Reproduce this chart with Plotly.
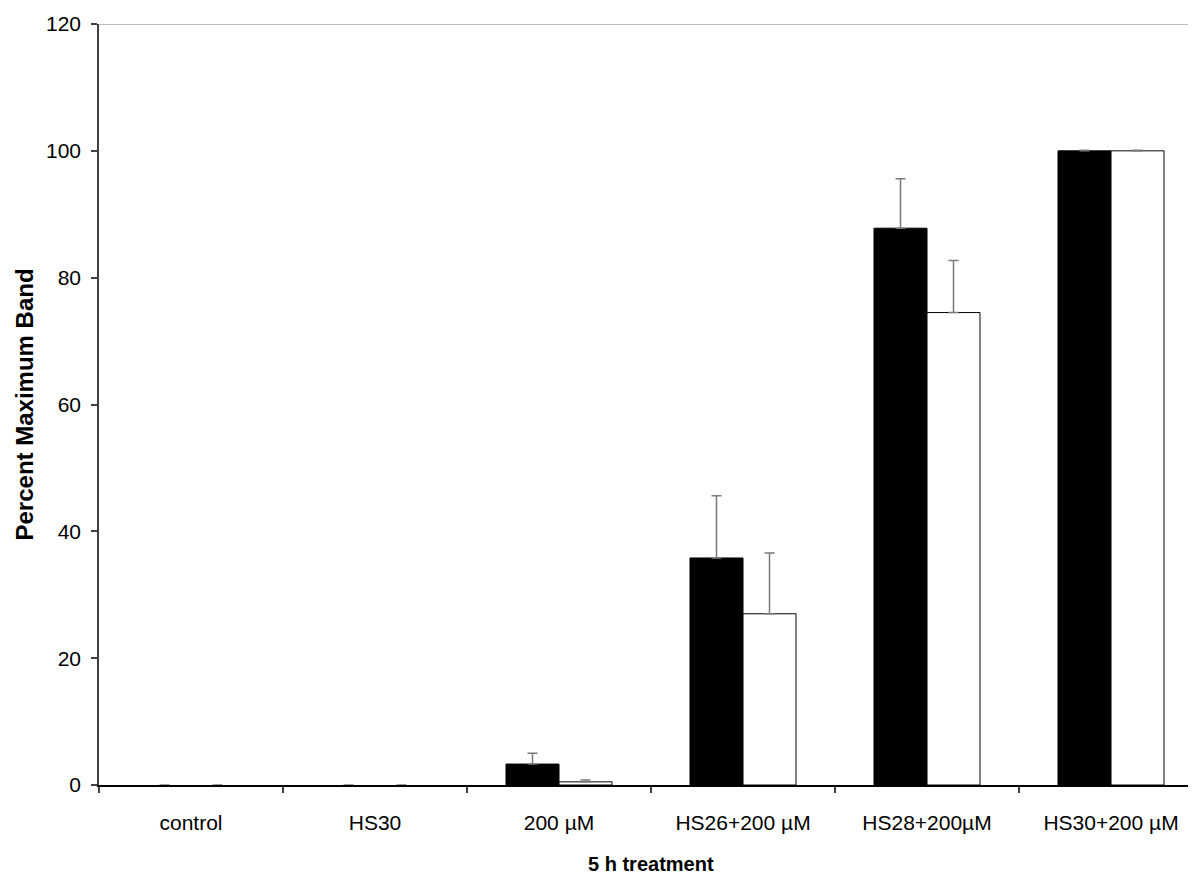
import plotly.graph_objects as go

categories = ["control", "HS30", "200 µM", "HS26+200 µM", "HS28+200µM", "HS30+200 µM"]
black_values = [0, 0, 3.3, 35.8, 87.8, 100]
black_errors = [0, 0, 1.7, 9.8, 7.8, 0.1]
white_values = [0, 0, 0.5, 27.0, 74.5, 100]
white_errors = [0, 0, 0.3, 9.6, 8.2, 0.1]
y_ticks = [0, 20, 40, 60, 80, 100, 120]

FONT = "Liberation Sans, Arial, sans-serif"


def outline_widths(values):
    return [0 if v == 0 else 1 for v in values]


fig = go.Figure()
fig.add_trace(go.Bar(
    x=categories, y=black_values, name="black",
    marker=dict(color="black", line=dict(color="black", width=outline_widths(black_values))),
    error_y=dict(type="data", symmetric=False, array=black_errors,
                 arrayminus=[0] * len(black_errors),
                 color="#7a7a7a", thickness=1.5, width=5),
))
fig.add_trace(go.Bar(
    x=categories, y=white_values, name="white",
    marker=dict(color="white", line=dict(color="black", width=outline_widths(white_values))),
    error_y=dict(type="data", symmetric=False, array=white_errors,
                 arrayminus=[0] * len(white_errors),
                 color="#7a7a7a", thickness=1.5, width=5),
))

fig.update_layout(
    width=1196, height=878,
    margin=dict(l=91, r=1, t=16, b=101),
    paper_bgcolor="white", plot_bgcolor="white",
    barmode="group", bargap=0.424, bargroupgap=0,
    showlegend=False,
    font=dict(family=FONT, size=21, color="black"),
    xaxis=dict(
        type="category",
        range=[-0.5, 5.5],
        showline=True, linecolor="black", linewidth=1.5,
        ticks="outside", tickson="boundaries", ticklen=6,
        tickcolor="#404040", tickwidth=1.5,
        showgrid=False, zeroline=False,
        tickfont=dict(family=FONT, size=21, color="black"),
        ticklabelstandoff=18,
    ),
    yaxis=dict(
        range=[0, 120], tickvals=y_ticks,
        showline=True, linecolor="#404040", linewidth=1.5,
        ticks="outside", ticklen=6, tickcolor="#404040", tickwidth=1.5,
        showgrid=False, zeroline=False,
        tickfont=dict(family=FONT, size=21, color="black"),
        ticklabelstandoff=6,
    ),
    shapes=[dict(type="line", xref="paper", yref="y", x0=0, x1=1, y0=120, y1=120,
                 line=dict(color="#a8a8a8", width=1.5), layer="below")],
    annotations=[
        dict(text="<b>5 h treatment</b>", xref="x", yref="paper", x=2.5, y=0,
             yshift=-66, xanchor="center", yanchor="top", showarrow=False,
             font=dict(family=FONT, size=20, color="black")),
        dict(text="<b>Percent Maximum Band</b>", xref="paper", yref="paper",
             x=0, y=0.5, xshift=-75, xanchor="center", yanchor="middle",
             textangle=-90, showarrow=False,
             font=dict(family=FONT, size=24, color="black")),
    ],
)

fig.write_html("out.html")
